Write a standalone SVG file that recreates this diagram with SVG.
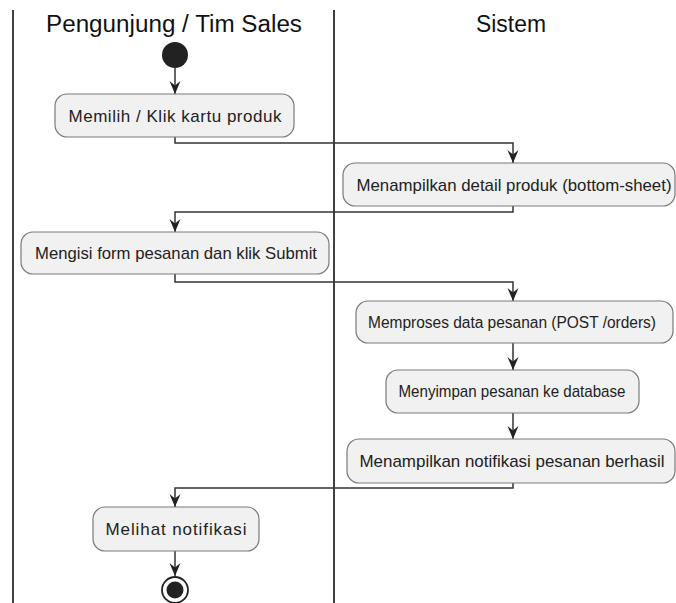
<svg xmlns="http://www.w3.org/2000/svg" width="676" height="603" viewBox="0 0 676 603">
  <defs>
    <style>
      .lane { stroke: #111; stroke-width: 1.6; fill: none; }
      .title { font-family: "Liberation Sans", Arial, sans-serif; font-size: 23px; fill: #111; text-anchor: middle; }
      .act rect { fill: #f1f1f1; stroke: #7a7a7a; stroke-width: 1.2; }
      .act text { font-family: "Liberation Sans", Arial, sans-serif; font-size: 17px; fill: #222; text-anchor: middle; }
      .act text.tight { font-size: 16px; }
      .flow path { fill: none; stroke: #333; stroke-width: 1.5; marker-end: url(#arrow); }
    </style>
    <marker id="arrow" markerUnits="userSpaceOnUse" markerWidth="14" markerHeight="14" refX="13" refY="7" orient="auto">
      <path d="M0,1.5 L13,7 L0,12.5 L4.5,7 Z" fill="#222"/>
    </marker>
  </defs>

  <rect width="676" height="603" fill="#ffffff"/>

  <!-- swimlanes -->
  <g id="lanes">
    <line class="lane" x1="13" y1="10" x2="13" y2="603"/>
    <line class="lane" x1="334" y1="10" x2="334" y2="603"/>
    <text class="title" x="174" y="32" textLength="256" lengthAdjust="spacingAndGlyphs">Pengunjung / Tim Sales</text>
    <text class="title" x="511" y="32" textLength="70" lengthAdjust="spacingAndGlyphs">Sistem</text>
  </g>

  <!-- connectors -->
  <g id="connectors" class="flow">
    <path d="M175,68 V94"/>
    <path d="M175,137 V143 H513 V163"/>
    <path d="M513,206 V212 H175 V232"/>
    <path d="M175,274 V282 H513 V301"/>
    <path d="M513,343 V370"/>
    <path d="M513,413 V439"/>
    <path d="M513,483 V488 H175 V507"/>
    <path d="M175,551 V576"/>
  </g>

  <!-- start -->
  <g id="start">
    <circle cx="175" cy="55" r="13" fill="#222"/>
  </g>

  <g id="pilih-produk" class="act">
    <rect x="55" y="94" width="239" height="43" rx="12"/>
    <text x="175" y="122" textLength="213" lengthAdjust="spacing">Memilih / Klik kartu produk</text>
  </g>

  <g id="detail-produk" class="act">
    <rect x="343" y="163" width="332" height="43" rx="12"/>
    <text x="514" y="191" textLength="315" lengthAdjust="spacingAndGlyphs">Menampilkan detail produk (bottom-sheet)</text>
  </g>

  <g id="isi-form" class="act">
    <rect x="21" y="232" width="308" height="42" rx="12"/>
    <text x="176" y="259" textLength="282" lengthAdjust="spacingAndGlyphs">Mengisi form pesanan dan klik Submit</text>
  </g>

  <g id="proses-data" class="act">
    <rect x="356" y="301" width="317" height="42" rx="12"/>
    <text class="tight" x="512" y="328" textLength="288" lengthAdjust="spacingAndGlyphs">Memproses data pesanan (POST /orders)</text>
  </g>

  <g id="simpan-db" class="act">
    <rect x="386" y="370" width="253" height="43" rx="12"/>
    <text x="512" y="397" textLength="227" lengthAdjust="spacingAndGlyphs">Menyimpan pesanan ke database</text>
  </g>

  <g id="notif-berhasil" class="act">
    <rect x="347" y="439" width="328" height="44" rx="12"/>
    <text x="512" y="467" textLength="305" lengthAdjust="spacingAndGlyphs">Menampilkan notifikasi pesanan berhasil</text>
  </g>

  <g id="lihat-notif" class="act">
    <rect x="93" y="507" width="166" height="44" rx="12"/>
    <text x="176" y="535" textLength="141" lengthAdjust="spacing">Melihat notifikasi</text>
  </g>

  <!-- end -->
  <g id="end">
    <circle cx="175" cy="590" r="13" fill="#fff" stroke="#222" stroke-width="1.8"/>
    <circle cx="175" cy="590" r="8.5" fill="#222"/>
  </g>
</svg>
